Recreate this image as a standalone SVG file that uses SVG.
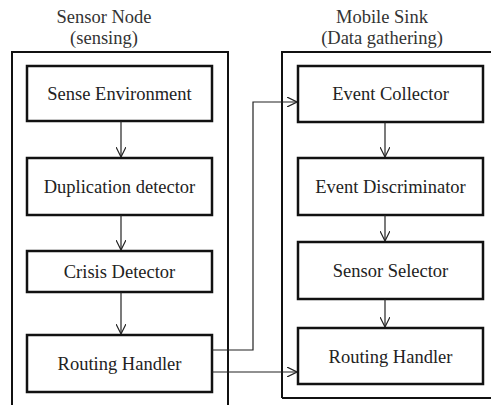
<svg xmlns="http://www.w3.org/2000/svg" width="491" height="405" viewBox="0 0 491 405">
  <defs>
    <marker id="arr" viewBox="0 0 10 10" refX="10" refY="5" markerWidth="10" markerHeight="10" markerUnits="userSpaceOnUse" orient="auto">
      <path d="M0,0 L10,5 L0,10" fill="none" stroke="#222" stroke-width="1.2"/>
    </marker>
  </defs>
  <style>
    .frame { fill: none; stroke: #111; stroke-width: 2; }
    .box { fill: #fff; stroke: #111; stroke-width: 2.5; }
    .lbl { fill: #222; }
    .ttl { fill: #333; }
    .conn { fill: none; stroke: #222; stroke-width: 1.2; marker-end: url(#arr); }
  </style>
  <rect width="491" height="405" fill="#fff"/>

  <g font-family="Liberation Serif, DejaVu Serif, serif" font-size="18.5" text-anchor="middle">
  <!-- group titles -->
  <text class="ttl" x="104" y="23">Sensor Node</text>
  <text class="ttl" x="104" y="44">(sensing)</text>
  <text class="ttl" x="382" y="23">Mobile Sink</text>
  <text class="ttl" x="382" y="44">(Data gathering)</text>
  </g>

  <!-- container frames -->
  <g id="sensor-node-frame">
    <path class="frame" d="M12,408 V52 H228 V408"/>
  </g>
  <g id="mobile-sink-frame">
    <path class="frame" d="M282,398 V52 H494 M282,398 H494"/>
  </g>

  <g font-family="Liberation Serif, DejaVu Serif, serif" font-size="18.5" text-anchor="middle">
  <!-- sensor node stages -->
  <g id="sense-environment">
    <rect class="box" x="27" y="66" width="185" height="55"/>
    <text class="lbl" x="119.5" y="100">Sense Environment</text>
  </g>
  <g id="duplication-detector">
    <rect class="box" x="27" y="158" width="185" height="57"/>
    <text class="lbl" x="119.5" y="193">Duplication detector</text>
  </g>
  <g id="crisis-detector">
    <rect class="box" x="27" y="251" width="185" height="41"/>
    <text class="lbl" x="119.5" y="278">Crisis Detector</text>
  </g>
  <g id="routing-handler-node">
    <rect class="box" x="27" y="335" width="185" height="57"/>
    <text class="lbl" x="119.5" y="370">Routing Handler</text>
  </g>

  <!-- mobile sink stages -->
  <g id="event-collector">
    <rect class="box" x="298" y="66" width="185" height="56"/>
    <text class="lbl" x="390.5" y="100">Event Collector</text>
  </g>
  <g id="event-discriminator">
    <rect class="box" x="298" y="158" width="185" height="57"/>
    <text class="lbl" x="390.5" y="193">Event Discriminator</text>
  </g>
  <g id="sensor-selector">
    <rect class="box" x="298" y="242" width="185" height="57"/>
    <text class="lbl" x="390.5" y="277">Sensor Selector</text>
  </g>
  <g id="routing-handler-sink">
    <rect class="box" x="298" y="328" width="185" height="56"/>
    <text class="lbl" x="390.5" y="363">Routing Handler</text>
  </g>
  </g>

  <!-- connectors -->
  <g id="connectors">
    <path class="conn" d="M121,121 V157"/>
    <path class="conn" d="M121,215 V250"/>
    <path class="conn" d="M121,292 V334"/>
    <path class="conn" d="M385,122 V157"/>
    <path class="conn" d="M385,215 V241"/>
    <path class="conn" d="M385,299 V327"/>
    <path class="conn" d="M212,350 H253 V102 H297"/>
    <path class="conn" d="M212,372 H297"/>
  </g>
</svg>
